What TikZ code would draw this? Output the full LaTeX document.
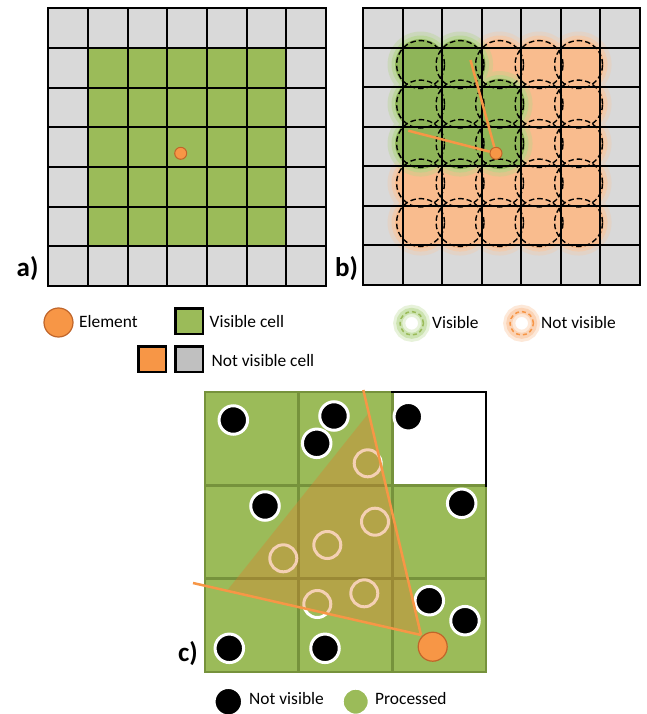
\documentclass[tikz,border=0pt]{standalone}
\usepackage{fontspec}
\setmainfont{Carlito}
\usetikzlibrary{calc}
\definecolor{cgreen}{HTML}{9BBB59}
\definecolor{cgray}{HTML}{D9D9D9}
\definecolor{lgray}{HTML}{C0C0C0}
\definecolor{corange}{HTML}{F79646}
\definecolor{cordark}{HTML}{C0652A}
\definecolor{gline}{HTML}{76923C}
\definecolor{glowor}{HTML}{F9BC8E}
\definecolor{glowgr}{HTML}{8FB559}
\definecolor{halogr}{HTML}{B2D687}
\definecolor{haloor}{HTML}{FAC69E}
\definecolor{covor}{HTML}{E07B2A}
\begin{document}
\begin{tikzpicture}[x=1pt,y=-1pt,
  txt/.style={font=\fontsize{17.4}{20}\selectfont, anchor=west, inner sep=0pt, text height=11.2pt, text depth=0pt},
  lbl/.style={font=\fontsize{27}{30}\selectfont\bfseries, inner sep=0pt, anchor=base west},
  elem/.style={circle, fill=corange, draw=cordark, line width=1pt, inner sep=0pt, minimum size=12pt},
  bigelem/.style={circle, fill=corange, draw=cordark, line width=1.2pt, inner sep=0pt, minimum size=29pt},
  ray/.style={draw=corange, line width=2.5pt},
  dcirc/.style={draw=black, line width=1.4pt, dash pattern=on 5.5pt off 3pt},
  gridline/.style={draw=black, line width=2pt, line cap=rect},
  cline/.style={draw=gline, line width=2.5pt, line cap=rect},
  bline/.style={draw=black, line width=2.5pt, line cap=rect},
  sq/.style={draw=black, line width=2.5pt, minimum width=27.5pt, minimum height=25.5pt, inner sep=0pt},
  blk/.style={circle, fill=black, draw=white, line width=3pt, minimum size=28.5pt, inner sep=0pt},
  proc/.style={circle, fill=cgreen, draw=white, line width=3pt, minimum size=27pt, inner sep=0pt},
]
\useasboundingbox (0,0) rectangle (647,714);
\fill[white] (0,0) rectangle (647,714);

% ---------------- panel a ----------------
\fill[cgray] (48.3,8.3) rectangle (326,286);
\fill[cgreen] (87.97,47.97) rectangle (286.3,246.3);
\foreach \i in {0,...,7}{
  \draw[gridline] ({48.3+\i*39.67},8.3) -- ({48.3+\i*39.67},286);
  \draw[gridline] (48.3,{8.3+\i*39.67}) -- (326,{8.3+\i*39.67});
}
\node[elem] (ea) at (180.7,153.3) {};
\node[lbl] (la) at (16.5,276) {a)};

% ---------------- panel b ----------------
\def\olist{3/1,4/1,5/1,4/2,5/2,4/3,5/3,1/4,2/4,3/4,4/4,5/4,1/5,2/5,3/5,4/5,5/5}
\def\glist{1/1,2/1,1/2,2/2,3/2,1/3,2/3,3/3}
\fill[cgray] (363.3,8.3) rectangle (639.8,284.8);
% orange glow
\fill[haloor, opacity=0.3] foreach \c/\r in \olist {({363.3+(\c+0.5)*39.5-2},{8.3+(\r+0.5)*39.5-3}) circle[radius=33pt]};
\fill[haloor, opacity=0.6] foreach \c/\r in \olist {({363.3+(\c+0.5)*39.5-2},{8.3+(\r+0.5)*39.5-3}) circle[radius=29pt]};
\foreach \c/\r in \olist {
  \fill[glowor] ({363.3+(\c+0.5)*39.5-2},{8.3+(\r+0.5)*39.5-3}) circle[radius=25.5pt];
  \fill[glowor] ({363.3+\c*39.5},{8.3+\r*39.5}) rectangle ++(39.5,39.5);
}
% green glow
\fill[halogr, opacity=0.35] foreach \c/\r in \glist {({363.3+(\c+0.5)*39.5-2},{8.3+(\r+0.5)*39.5-3}) circle[radius=33pt]};
\fill[halogr, opacity=0.6] foreach \c/\r in \glist {({363.3+(\c+0.5)*39.5-2},{8.3+(\r+0.5)*39.5-3}) circle[radius=29pt]};
\foreach \c/\r in \glist {
  \fill[glowgr] ({363.3+(\c+0.5)*39.5-2},{8.3+(\r+0.5)*39.5-3}) circle[radius=25.5pt];
  \fill[glowgr] ({363.3+\c*39.5},{8.3+\r*39.5}) rectangle ++(39.5,39.5);
}
\foreach \i in {0,...,7}{
  \draw[gridline] ({363.3+\i*39.5},8.3) -- ({363.3+\i*39.5},284.8);
  \draw[gridline] (363.3,{8.3+\i*39.5}) -- (639.8,{8.3+\i*39.5});
}
\foreach \c in {1,...,5}{
  \foreach \r in {1,...,5}{
    \draw[dcirc] ({363.3+(\c+0.5)*39.5-2},{8.3+(\r+0.5)*39.5-3}) circle[radius=24pt];
  }
}
\node[elem] (eb) at (496,153.3) {};
\coordinate (bl1) at (408.3,130.7);
\coordinate (bl2) at (470.5,60);
\draw[ray] (eb) -- (bl1);
\draw[ray] (eb) -- (bl2);
\node[lbl] (lb) at (335,276) {b)};

% ---------------- legend ----------------
\node[bigelem] (lel) at (58.5,322.5) {};
\node[txt] (tel) at (79,321.5) {Element};
\node[sq, fill=cgreen] (sqv) at (189,321) {};
\node[txt] (tvc) at (209.5,321.5) {Visible cell};
\node[sq, fill=corange] (sqo) at (152,359) {};
\node[sq, fill=lgray] (sqg) at (189,359) {};
\node[txt] (tnc) at (211.5,360.8) {Not visible cell};

\coordinate (gv) at (411.7,323.3);
\draw[halogr, line width=12pt, opacity=0.3] (gv) circle[radius=12.5pt];
\draw[halogr, line width=6pt, opacity=0.5] (gv) circle[radius=12.5pt];
\draw[cgreen, line width=1.5pt, dash pattern=on 4pt off 3pt] (gv) circle[radius=11.7pt];
\node[txt] (tvis) at (432,322.5) {Visible};

\coordinate (go) at (521.7,323.3);
\draw[haloor, line width=12pt, opacity=0.4] (go) circle[radius=12.5pt];
\draw[haloor, line width=6pt, opacity=0.6] (go) circle[radius=12.5pt];
\draw[corange, line width=1.5pt, dash pattern=on 4pt off 3pt] (go) circle[radius=11.7pt];
\node[txt] (tnvis) at (541,322.5) {Not visible};

% ---------------- panel c ----------------
\fill[cgreen] (205,392) rectangle (486,672);
\fill[white] (392.3,392) rectangle (486,485.3);
\draw[cline] (205,392) -- (205,672);
\draw[cline] (298.7,392) -- (298.7,672);
\draw[cline] (392.3,392) -- (392.3,672);
\draw[cline] (486,485.3) -- (486,672);
\draw[cline] (205,392) -- (392.3,392);
\draw[cline] (205,485.3) -- (486,485.3);
\draw[cline] (205,578.7) -- (486,578.7);
\draw[cline] (205,672) -- (486,672);
\draw[bline] (392.3,392) -- (486,392) -- (486,485.3);

\node[blk] (n1) at (233.3,420) {};
\node[blk] (n2) at (334,416) {};
\node[blk] (n3) at (316.7,443.3) {};
\node[blk] (n4) at (408.3,416.7) {};
\node[blk] (n5) at (265,506) {};
\node[blk] (n6) at (461.7,503.3) {};
\node[blk] (n7) at (429.3,600.7) {};
\node[blk] (n8) at (465,620.7) {};
\node[blk] (n9) at (229.3,648.3) {};
\node[blk] (n10) at (325,648.3) {};

\node[proc] (p1) at (367.7,463.3) {};
\node[proc] (p2) at (375,521.7) {};
\node[proc] (p3) at (327.3,545) {};
\node[proc] (p4) at (283.3,558.3) {};
\node[proc] (p5) at (364.3,593.3) {};
\node[proc] (p6) at (317.3,604) {};

\coordinate (apex) at (421,635);
\coordinate (c1end) at (193,583);
\coordinate (c2end) at (363.3,390);
\fill[covor, fill opacity=0.35] (apex) -- ($(apex)!0.851!(c1end)$) -- ($(apex)!0.906!(c2end)$) -- cycle;
\draw[ray] (apex) -- (c1end);
\draw[ray] (apex) -- (c2end);
\node[bigelem] (ec) at (432.7,646.7) {};
\node[lbl] (lc) at (178,661.7) {c)};

\node[blk] (lnv) at (228.3,701.7) {};
\node[txt] (tnv) at (249,698.8) {Not visible};
\node[proc] (lpr) at (355.7,701.7) {};
\node[txt] (tpr) at (375,698.8) {Processed};
\end{tikzpicture}
\end{document}
